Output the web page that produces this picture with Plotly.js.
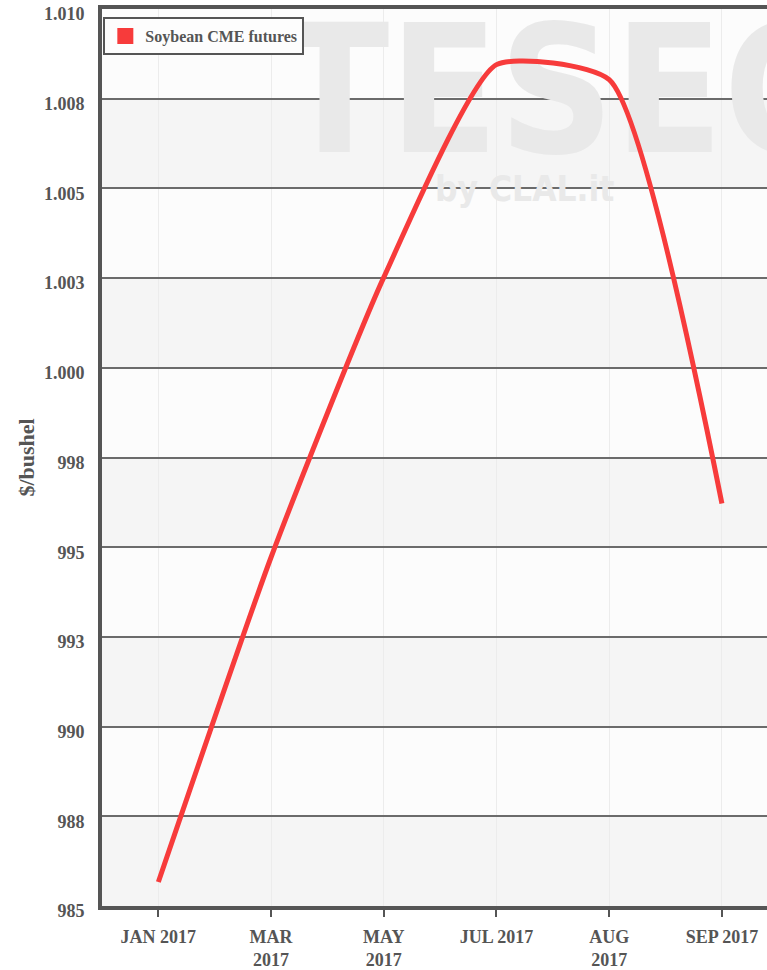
<!DOCTYPE html>
<html>
<head>
<meta charset="utf-8">
<script src="https://cdn.plot.ly/plotly-3.0.1.min.js"></script>
<style>html,body{margin:0;padding:0;background:#fff;}#chart{width:767px;height:970px;}</style>
</head>
<body>
<div id="chart"></div>
<script>
// ---- data ----
const categories = ["JAN 2017", "MAR 2017", "MAY 2017", "JUL 2017", "AUG 2017", "SEP 2017"];
const categoryLabels = ["JAN 2017", "MAR<br>2017", "MAY<br>2017", "JUL 2017", "AUG<br>2017", "SEP 2017"];
const soybean = [985.67, 994.72, 1002.52, 1008.45, 1008.03, 996.22];
const seriesName = "Soybean CME futures";
const yTickVals = [985, 987.5, 990, 992.5, 995, 997.5, 1000, 1002.5, 1005, 1007.5, 1010];
const yTickText = ["985", "988", "990", "993", "995", "998", "1.000", "1.003", "1.005", "1.008", "1.010"];
const watermarkMain = "TESEO";
const watermarkSub = "by CLAL.it";

const xIdx = categories.map((c, i) => i);
const font = "Liberation Serif, Times New Roman, serif";
const txtColor = "#555555";
const red = "#f73b3b";

// alternating bands
const shapes = [];
for (let i = 0; i < yTickVals.length - 1; i++) {
  if (i % 2 === 0) {
    shapes.push({type: "rect", layer: "below", xref: "paper", yref: "y",
      x0: 0, x1: 1, y0: yTickVals[i], y1: yTickVals[i + 1],
      fillcolor: "#f5f5f5", line: {width: 0}});
  }
}

const traces = [
  { // watermark (drawn beneath the line)
    x: [3.65, 3.25], y: [1007.25, 1004.9],
    mode: "text", text: [watermarkMain, watermarkSub],
    textfont: {family: "DejaVu Sans Condensed, DejaVu Sans", size: [178, 35], color: "#e9e9e9", weight: "bold"},
    hoverinfo: "skip", showlegend: false
  },
  {
    x: xIdx, y: soybean, name: seriesName, mode: "lines",
    line: {color: red, width: 5, shape: "spline", smoothing: 0.55},
    showlegend: false
  },
  { // legend swatch
    x: [null], y: [null], name: seriesName, mode: "markers",
    marker: {symbol: "square", size: 20, color: red},
    showlegend: true
  }
];

const layout = {
  width: 767, height: 970,
  margin: {l: 102, r: 0, t: 9, b: 64},
  paper_bgcolor: "#ffffff", plot_bgcolor: "#fcfcfc",
  font: {family: font, color: txtColor},
  shapes: shapes,
  showlegend: true,
  legend: {
    x: 0.002, y: 0.991, xanchor: "left", yanchor: "top",
    bgcolor: "#fdfdfd", bordercolor: "#555555", borderwidth: 2,
    font: {family: font, size: 16, color: txtColor, weight: "bold"}
  },
  xaxis: {
    type: "linear", range: [-0.5, 5.4],
    tickvals: xIdx, ticktext: categoryLabels,
    showline: true, linecolor: "#555555", linewidth: 4, mirror: true,
    ticks: "outside", ticklen: 7, tickwidth: 2, tickcolor: "#555555",
    ticklabelstandoff: 4,
    showgrid: true, gridcolor: "#ececec", gridwidth: 1,
    zeroline: false,
    tickfont: {family: font, size: 18, color: txtColor, weight: "bold"}
  },
  yaxis: {
    range: [985, 1010],
    tickvals: yTickVals, ticktext: yTickText,
    showline: true, linecolor: "#555555", linewidth: 4, mirror: false,
    ticks: "", ticklabelstandoff: 10, ticklabelshift: 5,
    showgrid: true, gridcolor: "#6b6b6b", gridwidth: 2,
    zeroline: false,
    tickfont: {family: font, size: 18, color: txtColor, weight: "bold"},
    title: {text: "$/bushel", standoff: 4, font: {family: font, size: 22, color: txtColor, weight: "bold"}}
  }
};

Plotly.newPlot("chart", traces, layout, {displayModeBar: false, staticPlot: true});
</script>
</body>
</html>
